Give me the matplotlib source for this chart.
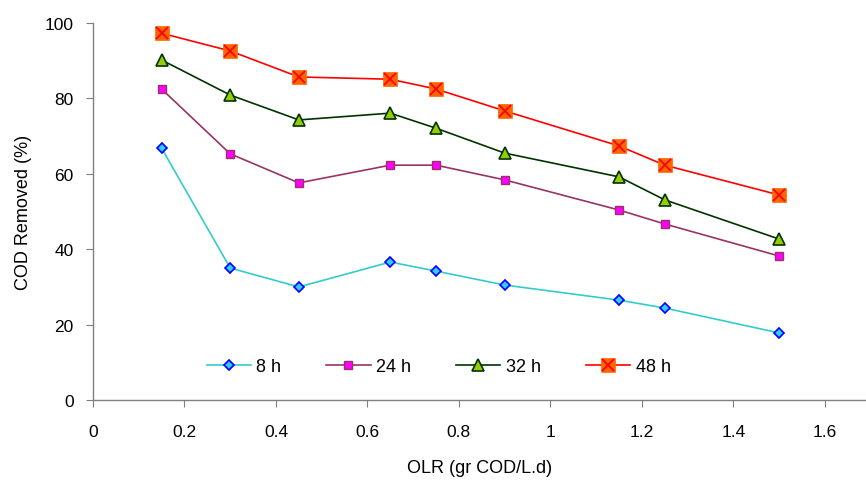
import matplotlib
matplotlib.use("Agg")
import matplotlib.pyplot as plt
from matplotlib.legend_handler import HandlerTuple

plt.rcParams['font.family'] = ['Liberation Sans', 'DejaVu Sans']

olr = [0.15, 0.3, 0.45, 0.65, 0.75, 0.9, 1.15, 1.25, 1.5]
h8 = [66.8, 35.0, 30.0, 36.6, 34.2, 30.5, 26.5, 24.4, 17.8]
h24 = [82.5, 65.3, 57.6, 62.3, 62.3, 58.4, 50.4, 46.7, 38.2]
h32 = [90.2, 80.9, 74.3, 76.1, 72.1, 65.5, 59.2, 53.1, 42.7]
h48 = [97.3, 92.6, 85.7, 85.1, 82.5, 76.7, 67.4, 62.3, 54.4]
xticks = [0, 0.2, 0.4, 0.6, 0.8, 1, 1.2, 1.4, 1.6]
yticks = [0, 20, 40, 60, 80, 100]

fig = plt.figure(figsize=(8.66, 4.81), dpi=100)
ax = fig.add_axes([0.1074, 0.1663, 0.8926, 0.7837])

l8, = ax.plot(olr, h8, color='#33CCCC', lw=1.2, marker='D', ms=5,
              mfc='#33CCFF', mec='#0000FF', mew=1.2, label='8 h')
l24, = ax.plot(olr, h24, color='#993366', lw=1.2, marker='s', ms=6,
               mfc='#FF00FF', mec='#993366', mew=1.0, label='24 h')
l32, = ax.plot(olr, h32, color='#003300', lw=1.2, marker='^', ms=8.5,
               mfc='#99CC00', mec='#003300', mew=1.2, label='32 h')
l48, = ax.plot(olr, h48, color='#FF0000', lw=1.2, marker='s', ms=10.5,
               mfc='#FF6600', mec='#FF6600', mew=0.5)
x48, = ax.plot(olr, h48, ls='none', marker='x', ms=8, mec='#FF0000', mew=1.3)

ax.set_xlim(0, 1.69)
ax.set_ylim(0, 100)
ax.set_xticks(xticks)
ax.set_xticklabels(['0', '0.2', '0.4', '0.6', '0.8', '1', '1.2', '1.4', '1.6'])
ax.set_yticks(yticks)
for s in ['top', 'right']:
    ax.spines[s].set_visible(False)
for s in ['left', 'bottom']:
    ax.spines[s].set_color('#808080')
    ax.spines[s].set_linewidth(1.0)
ax.tick_params(axis='both', direction='out', length=5, color='#808080',
               labelsize=12.5, labelcolor='black')
ax.tick_params(axis='x', pad=12)
ax.tick_params(axis='y', pad=9)
ax.set_xlabel('OLR (gr COD/L.d)', fontsize=13, labelpad=15)
ax.set_ylabel('COD Removed (%)', fontsize=13, labelpad=9)

ax.legend([l8, l24, l32, (l48, x48)], ['8 h', '24 h', '32 h', '48 h'],
          handler_map={tuple: HandlerTuple(ndivide=1)},
          ncol=4, frameon=False, loc='center', bbox_to_anchor=(0.447, 0.088),
          fontsize=13, handlelength=2.45, columnspacing=2.5, handletextpad=0.3)

fig.savefig('out.png', dpi=100)
